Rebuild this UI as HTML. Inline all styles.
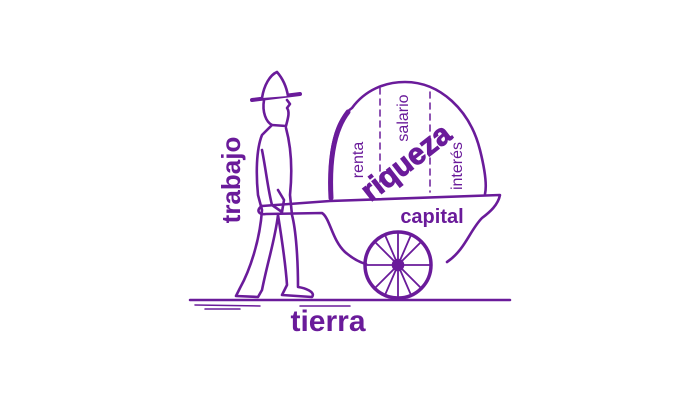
<!DOCTYPE html>
<html><head><meta charset="utf-8"><style>
html,body{margin:0;padding:0;background:#fff;width:700px;height:400px;overflow:hidden}
text{font-family:"Liberation Sans",sans-serif;fill:#6a1b9a}
</style></head><body>
<svg width="700" height="400" viewBox="0 0 700 400" xmlns="http://www.w3.org/2000/svg">
<g fill="none" stroke="#6a1b9a" stroke-width="2.6" stroke-linecap="round" stroke-linejoin="round">
<!-- sack -->
<path d="M330 198 C328 150 335 120 352 108 C365 90 385 82 405 82 C440 82 470 110 480 150 C485 170 487 185 485 194"/>
<path d="M331 198 C329 160 334 130 348 112" stroke-width="5"/>
<path d="M380 88 V192 M430 92 V192" stroke-dasharray="6 5" stroke-width="1.5"/>
<!-- cart -->
<path d="M262 206 L330 201 L500 195 C498 205 490 212 482 218 C470 230 465 250 447 262"/>
<path d="M262 206 C256 210 258 215 266 214 L322 213 C330 218 332 240 345 252 C352 258 358 262 366 264"/>
<!-- wheel -->
<circle cx="398" cy="265" r="33" stroke-width="3.5"/>
<path d="M398 232 V298 M365 265 H431 M375 242 L421 288 M421 242 L375 288 M385 235 L411 295 M411 235 L385 295" stroke-width="1.8"/>
<circle cx="398" cy="265" r="5" fill="#6a1b9a"/>
<!-- man -->
<path d="M252 100 L300 94" stroke-width="4"/>
<path d="M262 98 C264 85 270 75 277 72 C284 80 287 90 288 96" fill="#fff"/>
<path d="M264 100 C262 112 266 122 272 125 L286 126 C288 118 290 112 287 108 L290 104 L287 100"/>
<path d="M272 125 L262 135 C256 150 256 175 258 195 L262 210 C260 240 250 270 240 288 L236 296 L258 297 L262 290 C268 260 275 240 278 215 C282 240 286 270 287 285 L282 295 L312 297 C316 292 305 288 298 287 C298 260 296 230 292 215 L290 195 C292 175 292 150 286 128"/>
<path d="M262 150 C266 170 268 190 272 205 L282 212 L284 200 L278 190"/>
<path d="M190 300 L510 300" stroke-width="2.5"/>
<path d="M195 305 L260 306 M300 306 L350 306 M205 309 L240 309" stroke-width="1.5"/>
</g>
<g font-weight="bold">
<text transform="translate(240,180) rotate(-90)" text-anchor="middle" font-size="26">trabajo</text>
<text x="328" y="331" text-anchor="middle" font-size="30">tierra</text>
<text transform="translate(412,170) rotate(-38)" text-anchor="middle" font-size="30" stroke="#6a1b9a" stroke-width="1">riqueza</text>
</g>
<text x="432" y="223" text-anchor="middle" font-size="20" font-weight="bold">capital</text>
<text transform="translate(363,160) rotate(-90)" text-anchor="middle" font-size="16">renta</text>
<text transform="translate(408,118) rotate(-90)" text-anchor="middle" font-size="16">salario</text>
<text transform="translate(462,166) rotate(-90)" text-anchor="middle" font-size="16">interés</text>
</svg>
</body></html>
